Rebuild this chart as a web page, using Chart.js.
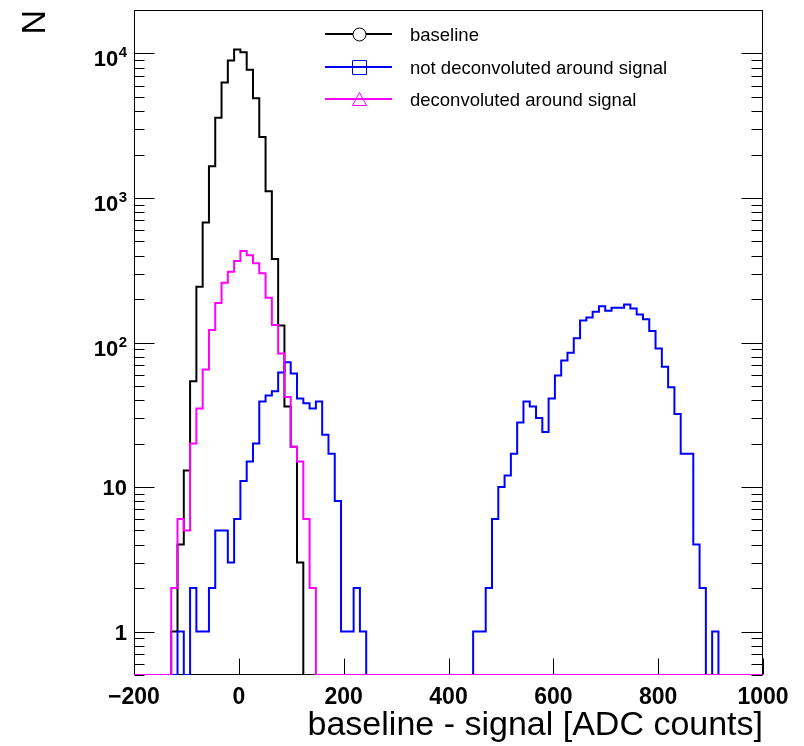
<!DOCTYPE html>
<html>
<head>
<meta charset="utf-8">
<script src="https://cdn.jsdelivr.net/npm/chart.js@4/dist/chart.umd.min.js"></script>
<style>
html,body{margin:0;padding:0;background:#fff;}
#wrap{width:804px;height:746px;position:relative;background:#fff;}
</style>
</head>
<body>
<div id="wrap"><canvas id="c" width="804" height="746"></canvas></div>
<script>
// ---- data (histogram: 100 bins of width 12, first bin starts at -201) ----
const BIN_START = -201;
const BIN_WIDTH = 12;
const seriesNames = ["baseline", "not deconvoluted around signal", "deconvoluted around signal"];

const baseline = [
  0, 0, 0, 0, 0, 0, 1, 4, 13, 54,
  243, 677, 1657, 3595, 6305, 8950, 10660, 10210, 7712, 4911,
  2641, 1113, 378, 131, 36, 19, 3, 0, 0, 0,
  0, 0, 0, 0, 0, 0, 0, 0, 0, 0,
  0, 0, 0, 0, 0, 0, 0, 0, 0, 0,
  0, 0, 0, 0, 0, 0, 0, 0, 0, 0,
  0, 0, 0, 0, 0, 0, 0, 0, 0, 0,
  0, 0, 0, 0, 0, 0, 0, 0, 0, 0,
  0, 0, 0, 0, 0, 0, 0, 0, 0, 0,
  0, 0, 0, 0, 0, 0, 0, 0, 0, 0
];

const notDeconvoluted = [
  0, 0, 0, 0, 0, 0, 0, 1, 0, 2,
  1, 1, 2, 5, 5, 3, 6, 11, 15, 20,
  39, 43, 46, 62, 73, 61, 41, 38, 35, 39,
  23, 17, 8, 1, 1, 2, 1, 0, 0, 0,
  0, 0, 0, 0, 0, 0, 0, 0, 0, 0,
  0, 0, 0, 0, 1, 1, 2, 6, 10, 12,
  17, 28, 39, 36, 30, 24, 41, 59, 75, 85,
  107, 142, 149, 163, 178, 166, 174, 174, 183, 172,
  156, 145, 120, 91, 68, 49, 32, 17, 17, 4,
  2, 0, 1, 0, 0, 0, 0, 0, 0, 0
];

const deconvoluted = [
  0, 0, 0, 0, 0, 0, 2, 6, 5, 20,
  35, 65, 122, 188, 259, 309, 366, 429, 402, 353,
  301, 204, 132, 84, 42, 19, 15, 6, 2, 0,
  0, 0, 0, 0, 0, 0, 0, 0, 0, 0,
  0, 0, 0, 0, 0, 0, 0, 0, 0, 0,
  0, 0, 0, 0, 0, 0, 0, 0, 0, 0,
  0, 0, 0, 0, 0, 0, 0, 0, 0, 0,
  0, 0, 0, 0, 0, 0, 0, 0, 0, 0,
  0, 0, 0, 0, 0, 0, 0, 0, 0, 0,
  0, 0, 0, 0, 0, 0, 0, 0, 0, 0
];

const xTicks = [-200, 0, 200, 400, 600, 800, 1000];
const yTicks = [1, 10, 100, 1000, 10000];
const X_MIN = -200, X_MAX = 1000;
const Y_MIN = 0.5, Y_MAX = 20000;

// ---- helpers ----
const FONT = "'Liberation Sans', Arial, Helvetica, sans-serif";
function histPoints(vals) {
  const pts = [];
  vals.forEach((v, i) => {
    const y = v > 0 ? v : Y_MIN;   // empty bins drawn on the bottom frame, like ROOT
    const x0 = BIN_START + i * BIN_WIDTH;
    pts.push({x: x0, y: y}, {x: x0 + BIN_WIDTH, y: y});
  });
  return pts;
}
function yLabelParts(v) {
  if (v === 1) return {base: "1", exp: ""};
  if (v === 10) return {base: "10", exp: ""};
  return {base: "10", exp: String(Math.round(Math.log10(v)))};
}

const rootDeco = {
  id: "rootDeco",
  beforeDatasetsDraw(chart) {
    const {ctx, chartArea: a, scales: {x, y}} = chart;
    ctx.save();
    ctx.strokeStyle = "#000";
    ctx.lineWidth = 1;
    const L = Math.round(a.left) + 0.5, R = Math.round(a.right) - 0.5;
    const T = Math.round(a.top) + 0.5, B = Math.round(a.bottom) - 0.5;
    ctx.strokeRect(L, T, R - L, B - T);
    ctx.beginPath();
    xTicks.forEach(v => {
      const px = Math.round(x.getPixelForValue(v)) + 0.5;
      ctx.moveTo(px, B); ctx.lineTo(px, B - 16);
    });
    for (let e = -1; e <= 4; e++) {
      for (let k = 1; k <= 9; k++) {
        const v = k * Math.pow(10, e);
        if (v < Y_MIN - 1e-9 || v > Y_MAX + 1e-9) continue;
        const py = Math.round(y.getPixelForValue(v)) + 0.5;
        const len = k === 1 ? 20 : 10;
        ctx.moveTo(L, py); ctx.lineTo(L + len, py);
        ctx.moveTo(R, py); ctx.lineTo(R - len - 1, py);
      }
    }
    ctx.stroke();

    // y tick labels with real superscripts (ROOT style)
    ctx.fillStyle = "#000";
    ctx.textAlign = "right";
    ctx.textBaseline = "alphabetic";
    const xr = a.left - 7;
    y.ticks.forEach(t => {
      const py = y.getPixelForValue(t.value);
      const p = yLabelParts(t.value);
      if (p.exp) {
        ctx.font = "bold 15px " + FONT;
        ctx.fillText(p.exp, xr, py + 4);
        const w = ctx.measureText(p.exp).width;
        ctx.font = "bold 22px " + FONT;
        ctx.fillText(p.base, xr - w - 0.5, py + 13);
      } else {
        ctx.font = "bold 22px " + FONT;
        ctx.fillText(p.base, xr, py + 8);
      }
    });
    ctx.restore();
  },
  afterDatasetsDraw(chart) {
    const ctx = chart.ctx;
    const rows = [
      {y: 34, color: "#000000", marker: "circle"},
      {y: 67, color: "#0000ff", marker: "square"},
      {y: 99, color: "#ff00ff", marker: "triangle"}
    ];
    ctx.save();
    rows.forEach((r, i) => {
      ctx.strokeStyle = r.color;
      ctx.lineWidth = 2;
      ctx.beginPath();
      ctx.moveTo(325, r.y); ctx.lineTo(392, r.y);
      ctx.stroke();
      ctx.lineWidth = 1;
      const cx = 359.5, cy = r.y + 0.5;
      ctx.beginPath();
      if (r.marker === "circle") {
        ctx.fillStyle = "#fff";
        ctx.arc(cx, cy, 6.5, 0, Math.PI * 2);
        ctx.fill();
      } else if (r.marker === "square") {
        ctx.rect(cx - 7, cy - 7, 14, 14);
      } else {
        ctx.moveTo(cx, cy - 7); ctx.lineTo(cx + 7, cy + 6); ctx.lineTo(cx - 7, cy + 6); ctx.closePath();
      }
      ctx.stroke();
      ctx.fillStyle = "#000";
      ctx.font = "18.5px " + FONT;
      ctx.textAlign = "left";
      ctx.textBaseline = "alphabetic";
      ctx.fillText(seriesNames[i], 410, r.y + 7);
    });
    ctx.restore();
  }
};

new Chart(document.getElementById("c"), {
  type: "line",
  data: {
    datasets: [
      {label: seriesNames[0], data: histPoints(baseline), borderColor: "#000000", order: 3},
      {label: seriesNames[1], data: histPoints(notDeconvoluted), borderColor: "#0000ff", order: 2},
      {label: seriesNames[2], data: histPoints(deconvoluted), borderColor: "#ff00ff", order: 1}
    ].map(d => Object.assign(d, {borderWidth: 2, pointRadius: 0, fill: false, tension: 0, spanGaps: true}))
  },
  options: {
    responsive: false,
    animation: false,
    devicePixelRatio: 1,
    layout: {padding: {left: 0, top: 10, right: 41, bottom: 0}},
    plugins: {legend: {display: false}, tooltip: {enabled: false}},
    scales: {
      x: {
        type: "linear", min: X_MIN, max: X_MAX,
        grid: {display: false, drawTicks: false},
        border: {display: false},
        afterBuildTicks: s => { s.ticks = xTicks.map(v => ({value: v})); },
        ticks: {
          color: "#000", padding: 9, maxRotation: 0, autoSkip: false,
          font: {family: FONT, size: 23, weight: "bold"},
          callback: v => (v < 0 ? "\u2212" + Math.abs(v) : String(v))
        },
        title: {
          display: true, text: "baseline - signal [ADC counts]", align: "end", color: "#000",
          font: {family: FONT, size: 34}, padding: {top: 0, bottom: 0}
        },
        afterFit: s => { s.height = 71; s.paddingLeft = 0; s.paddingRight = 0; }
      },
      y: {
        type: "logarithmic", min: Y_MIN, max: Y_MAX,
        grid: {display: false, drawTicks: false},
        border: {display: false},
        afterBuildTicks: s => { s.ticks = yTicks.map(v => ({value: v})); },
        ticks: {display: false},
        title: {
          display: true, text: "N", align: "end", color: "#000",
          font: {family: FONT, size: 34}, padding: {top: 15, bottom: 0}
        },
        afterFit: s => { s.width = 134; s.paddingTop = 0; s.paddingBottom = 0; }
      }
    }
  },
  plugins: [rootDeco]
});
</script>
</body>
</html>
